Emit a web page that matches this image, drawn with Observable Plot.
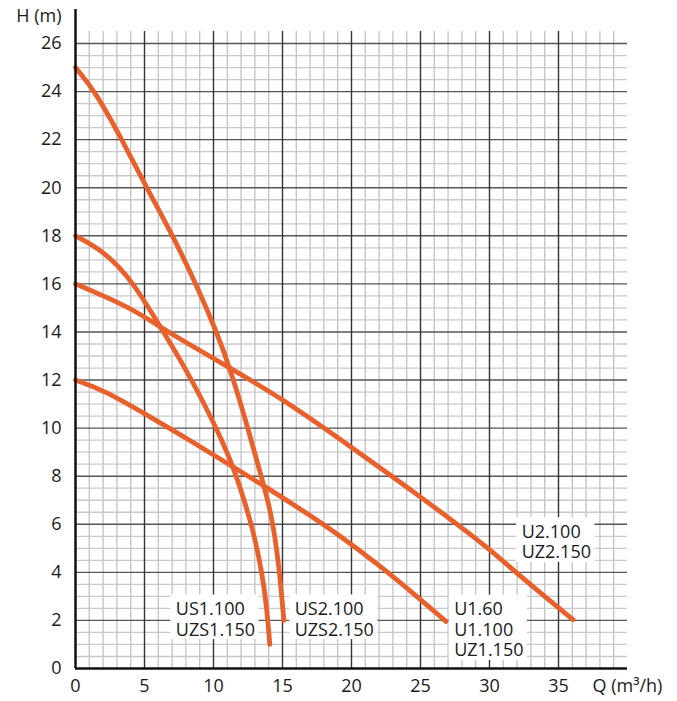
<!DOCTYPE html>
<html>
<head>
<meta charset="utf-8">
<script src="https://cdn.jsdelivr.net/npm/d3@7"></script>
<script src="https://cdn.jsdelivr.net/npm/@observablehq/plot@0.6"></script>
<style>
  html, body { margin: 0; padding: 0; background: #fff; }
  #chart svg { display: block; }
</style>
</head>
<body>
<div id="chart"></div>
<script>
// ---- Data ----
// Q in m³/h, H in m
const qUS2 = [0, 1.44, 3.37, 5.15, 7.2, 9.0, 10.15, 11.2, 12.5, 13.65, 14.1, 14.45, 14.7, 14.9, 15.1];
const hUS2 = [25, 24, 22, 20, 17.85, 15.65, 14.1, 12.5, 10.0, 7.6, 6.6, 5.5, 4.4, 3.3, 2.0];

const qUS1 = [0, 2.05, 4.1, 6.05, 7.6, 9.4, 10.6, 11.43, 12.2, 12.88, 13.5, 13.85, 14.08];
const hUS1 = [18, 17.37, 16.15, 14.3, 12.85, 10.95, 9.5, 8.38, 7.05, 5.73, 4.05, 2.6, 1.0];

const qU2 = [0, 2.05, 4.1, 6.05, 7.58, 11.2, 15.04, 19.86, 25.4, 29.9, 31.6, 33.5, 36.05];
const hU2 = [16, 15.5, 14.95, 14.25, 13.7, 12.5, 11.2, 9.26, 6.98, 5.03, 4.15, 3.24, 2.03];

const qU1 = [0, 2.05, 5.41, 8.5, 11.43, 13.65, 16, 19, 22, 24.9, 26.84];
const hU1 = [12, 11.58, 10.47, 9.42, 8.38, 7.6, 6.75, 5.6, 4.3, 2.92, 1.96];

const seriesNames = ["US2", "US1", "U2", "U1"];
const seriesQ = [qUS2, qUS1, qU2, qU1];
const seriesH = [hUS2, hUS1, hU2, hU1];

// Labels: text lines, anchor Q (text start) and H (baseline of last line)
const labelLines = [
  ["US1.100", "UZS1.150"],
  ["US2.100", "UZS2.150"],
  ["U1.60", "U1.100", "UZ1.150"],
  ["U2.100", "UZ2.150"]
];
const labelQ = [7.27, 15.88, 27.44, 32.33];
const labelH = [1.37, 1.37, 0.5, 4.58];

// Tick values
const xTicks = [0, 5, 10, 15, 20, 25, 30, 35];
const yTicks = [0, 2, 4, 6, 8, 10, 12, 14, 16, 18, 20, 22, 24, 26];
const xTitle = "Q (m³/h)";
const yTitle = "H (m)";

// ---- Build tables ----
const curveRows = seriesNames.flatMap((name, i) =>
  seriesQ[i].map((q, j) => ({series: name, q, h: seriesH[i][j]}))
);
const minorQ = d3.range(1, 40).filter(d => d % 5 !== 0);
const minorH = d3.range(0.5, 26.01, 0.5).filter(d => d % 2 !== 0);

const FONT = "'Open Sans', 'Noto Sans', sans-serif";
const FS = 18;
const LH = 1.15; // line height in em
const ctx = document.createElement("canvas").getContext("2d");
ctx.font = `${FS}px 'Open Sans'`;

const labels = labelLines.map((lines, i) => ({
  text: lines.join("\n"),
  n: lines.length,
  w: Math.max(...lines.map(s => ctx.measureText(s).width)),
  q: labelQ[i],
  h: labelH[i]
}));

const boxMarks = labels.map(l => Plot.rect([l], {
  x1: "q", x2: "q", y1: "h", y2: "h",
  fill: "white",
  insetLeft: -5,
  insetRight: -(l.w + 4),
  insetTop: -((l.n - 1) * FS * LH + 0.72 * FS + 7),
  insetBottom: -4
}));

const chart = Plot.plot({
  width: 677,
  height: 701,
  marginLeft: 75,
  marginRight: 50,
  marginTop: 31,
  marginBottom: 33,
  x: {domain: [0, 40]},
  y: {domain: [0, 26.5]},
  style: {fontFamily: FONT, fontSize: `${FS}px`, color: "#1a1a1a", background: "white"},
  marks: [
    Plot.ruleX(minorQ, {stroke: "#c2c2c2", strokeWidth: 1.3}),
    Plot.ruleY(minorH, {stroke: "#c8c8c8", strokeWidth: 1.3}),
    Plot.ruleY(yTicks.filter(d => d > 0), {stroke: "#555", strokeWidth: 1.4}),
    Plot.ruleX(xTicks.filter(d => d > 0), {stroke: "#333", strokeWidth: 1.4}),
    ...boxMarks,
    Plot.line(curveRows, {
      x: "q", y: "h", z: "series",
      stroke: "#e8602c", strokeWidth: 4.8,
      strokeLinecap: "round", strokeLinejoin: "round",
      curve: "basis"
    }),
    Plot.text(labels, {
      x: "q", y: "h", text: "text",
      textAnchor: "start", lineAnchor: "bottom", lineHeight: LH,
      fontSize: FS, fill: "#1a1a1a"
    }),
    Plot.ruleX([0], {stroke: "#111", strokeWidth: 2.5, insetTop: -22}),
    Plot.ruleY([0], {stroke: "#111", strokeWidth: 2.5}),
    Plot.axisX(xTicks, {tickSize: 0, tickPadding: 11, fontSize: FS, label: null}),
    Plot.axisY(yTicks, {tickSize: 0, tickPadding: 14, fontSize: FS, label: null}),
    Plot.text([yTitle], {
      frameAnchor: "top-left", textAnchor: "end", lineAnchor: "bottom",
      dx: -14, dy: -9.5, fontSize: FS, fill: "#1a1a1a"
    }),
    Plot.text([xTitle], {
      frameAnchor: "bottom-right", textAnchor: "start", lineAnchor: "bottom",
      dx: -35, dy: 23, fontSize: FS, fill: "#1a1a1a"
    })
  ]
});
document.getElementById("chart").appendChild(chart);
</script>
</body>
</html>
